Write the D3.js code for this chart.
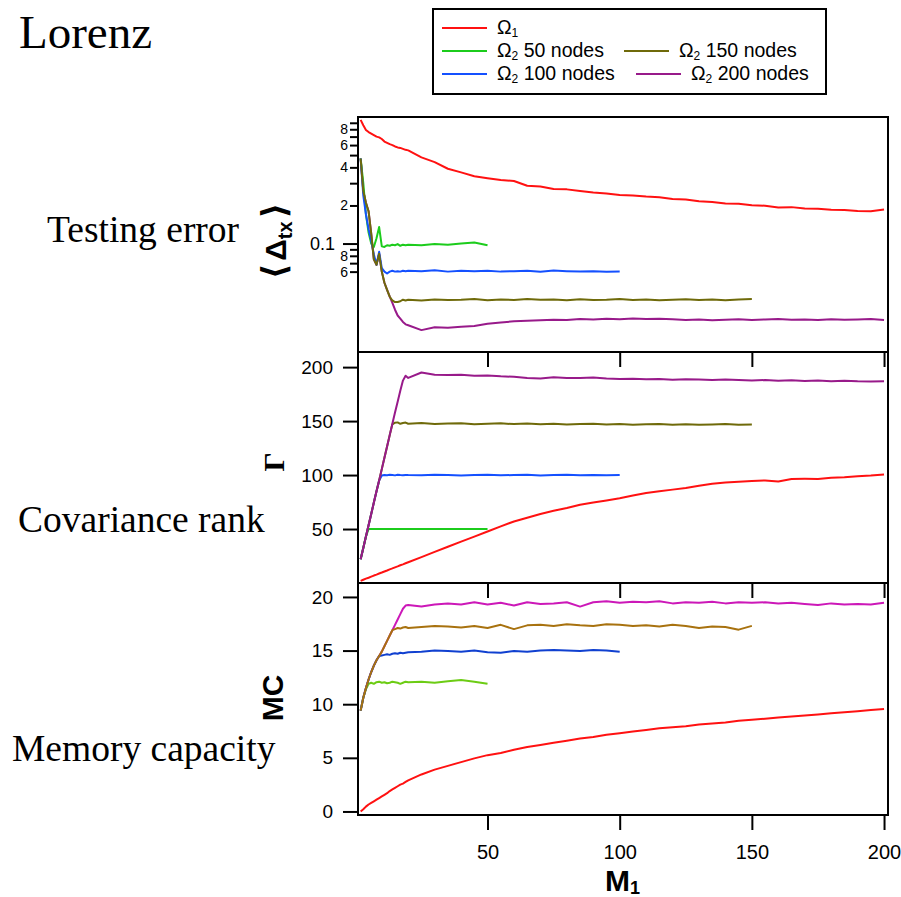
<!DOCTYPE html>
<html>
<head>
<meta charset="utf-8">
<script src="https://cdn.jsdelivr.net/npm/d3@7"></script>
<style>
  body { margin: 0; background: #fff; }
  svg { display: block; }
</style>
</head>
<body>
<div id="chart"></div>
<script>
// M1 sample points (fine at the start, then every 5)
const M1 = [2,3,4,5,6,7,8,9,10,11,12,13,14,15,16,17,18,19,20,25,30,35,40,45,50,55,60,65,70,75,80,85,90,95,100,105,110,115,120,125,130,135,140,145,150,155,160,165,170,175,180,185,190,195,200];

// testing error <Delta_tx> (log axis)
const errO1 = [0.95,0.86,0.79,0.76,0.74,0.72,0.70,0.69,0.67,0.64,0.625,0.61,0.60,0.585,0.575,0.57,0.56,0.55,0.545,
  0.48,0.44,0.39,0.365,0.34,0.328,0.318,0.312,0.286,0.282,0.27,0.268,0.26,0.253,0.249,0.242,0.240,0.235,0.232,0.225,0.223,0.216,0.213,0.207,0.206,0.201,0.199,0.193,0.194,0.189,0.188,0.185,0.184,0.181,0.180,0.186];
const err50 = [0.47,0.30,0.17,0.122,0.100,0.094,0.11,0.135,0.095,0.094,0.097,0.096,0.098,0.097,0.099,0.096,0.098,0.097,0.098,
  0.097,0.099,0.098,0.100,0.102,0.097];
const err100 = [0.47,0.24,0.17,0.13,0.105,0.082,0.068,0.086,0.064,0.060,0.058,0.060,0.061,0.060,0.0605,0.060,0.061,0.0605,0.061,
  0.0605,0.0615,0.060,0.061,0.0605,0.061,0.060,0.0605,0.061,0.0598,0.0612,0.0605,0.060,0.0603,0.0598,0.060];
const err150 = [0.47,0.26,0.21,0.18,0.12,0.075,0.068,0.083,0.060,0.049,0.043,0.038,0.0355,0.0345,0.0345,0.035,0.036,0.0355,0.036,
  0.0355,0.0362,0.0358,0.036,0.0365,0.0357,0.0362,0.0358,0.0365,0.036,0.0362,0.0357,0.0363,0.0358,0.036,0.0365,0.0358,0.0362,0.0357,0.036,0.0363,0.0358,0.0362,0.0356,0.0362,0.0365];
const err200 = [0.47,0.26,0.21,0.18,0.12,0.075,0.068,0.083,0.060,0.049,0.043,0.038,0.034,0.030,0.027,0.0255,0.024,0.023,0.0226,
  0.0207,0.0218,0.0216,0.022,0.0223,0.0232,0.0238,0.0243,0.0245,0.0248,0.025,0.0249,0.0253,0.0251,0.0254,0.0252,0.0256,0.0253,0.0255,0.0252,0.0249,0.0251,0.0248,0.025,0.0252,0.0249,0.0251,0.0253,0.025,0.0251,0.0249,0.0252,0.025,0.0251,0.0253,0.0249];

// covariance rank Gamma
const rankO1 = [2,3,4,4.9,5.9,6.9,7.8,8.8,9.7,10.7,11.6,12.6,13.5,14.5,15.4,16.4,17.3,18.3,19.2,
  24,28.8,33.6,38.3,43,47.7,52.5,57,60.5,64,67,69.5,72.5,74.5,76.5,78.5,81,83.4,85,86.5,88,90,92,93,93.8,94.5,95,94,96.4,96.5,96.4,97.5,98,98.8,99.5,100.5];
const rank50 = [22,32.5,43,50,50,50,50,50,50,50,50,50,50,50,50,50,50,50,50,
  50,50,50,50,50,50];
const rank100 = [22,32.5,43,53.5,64,74.5,85,95,99.5,100,99.8,100.2,100,99.7,100.3,100,99.8,100.1,100,
  99.8,100.2,100,99.6,100.1,100.3,99.8,100,100.2,99.7,100,100.3,99.9,100.1,99.8,100];
const rank150 = [22,32.5,43,53.5,64,74.5,85,95,105.5,116,126.5,137,147,148.5,148.8,147.5,148.2,148.6,147.5,
  148.2,147.3,147.8,148,147,147.6,147.9,147.2,147.7,147,147.5,146.8,147.3,147.6,146.9,147.2,146.6,147,147.3,146.7,147,146.5,146.9,147.2,146.6,146.8];
const rank200 = [22,32.5,43,53.5,64,74.5,85,95,105.5,116,126.5,137,147.5,158,168,178,187.5,192,190,
  195,193,192.6,193,192,192.3,191.5,191,190,189.5,190.5,190,189.8,190.4,189.5,189,189.3,188.8,189,188.4,188.8,188.5,188.1,188.6,188,187.6,188,187.4,187.8,187.2,187.5,187,187.3,186.8,186.6,187];

// memory capacity MC
const mcO1 = [0,0.2,0.45,0.65,0.8,0.95,1.1,1.25,1.4,1.55,1.7,1.9,2.05,2.2,2.35,2.5,2.6,2.75,2.9,
  3.45,3.9,4.25,4.6,4.95,5.25,5.45,5.75,6.0,6.2,6.4,6.6,6.8,6.95,7.15,7.3,7.45,7.6,7.75,7.85,7.95,8.1,8.2,8.3,8.45,8.55,8.65,8.75,8.85,8.95,9.05,9.15,9.25,9.35,9.45,9.55];
const mc50 = [9.4,10.6,11.4,11.9,12.0,11.9,12.05,12.1,12.0,12.05,11.95,12.0,12.1,12.05,12.0,11.9,12.0,12.1,12.05,
  12.1,12.0,12.15,12.25,12.1,11.9];
const mc100 = [9.4,10.6,11.5,12.3,13.0,13.6,14.1,14.5,14.55,14.6,14.65,14.6,14.7,14.75,14.7,14.8,14.75,14.8,14.85,
  14.9,15.0,14.95,14.9,15.0,14.85,14.8,14.95,14.9,15.0,15.05,15.0,14.95,15.05,15.0,14.9];
const mc150 = [9.4,10.6,11.5,12.3,13.0,13.6,14.1,14.5,14.9,15.4,15.9,16.4,16.9,17.0,17.1,17.05,17.15,17.2,17.1,
  17.2,17.3,17.25,17.15,17.3,17.1,17.4,17.0,17.35,17.4,17.3,17.45,17.35,17.3,17.45,17.4,17.3,17.35,17.25,17.4,17.3,17.1,17.25,17.2,16.95,17.3];
const mc200 = [9.4,10.6,11.5,12.3,13.0,13.6,14.1,14.5,14.9,15.4,15.9,16.4,16.9,17.4,17.9,18.4,18.9,19.2,19.25,
  19.1,19.3,19.4,19.3,19.5,19.3,19.45,19.2,19.5,19.35,19.4,19.5,19.1,19.5,19.6,19.45,19.55,19.5,19.6,19.4,19.5,19.45,19.55,19.4,19.5,19.45,19.5,19.4,19.45,19.35,19.25,19.4,19.3,19.35,19.3,19.45];

// ticks
const xTicks = [50, 100, 150, 200];
const errMinorTicks = [0.06,0.07,0.08,0.09,0.2,0.3,0.4,0.5,0.6,0.7,0.8,0.9];
const errMinorLabels = ["6","","8","","2","","4","","6","","8",""];
const errMajorTicks = [0.1];
const rankTicks = [50, 100, 150, 200];
const mcTicks = [0, 5, 10, 15, 20];

const legendNames = ["Ω1", "Ω2 50 nodes", "Ω2 100 nodes", "Ω2 150 nodes", "Ω2 200 nodes"];

const SANS = "'Liberation Sans', Arial, Helvetica, sans-serif";
const SERIF = "'Liberation Serif', 'Times New Roman', serif";

const W = 901, H = 897;
const L = 358, R = 888;

const svg = d3.select("#chart").append("svg")
  .attr("width", W).attr("height", H);

const x = d3.scaleLinear().domain([1, 201.5]).range([L, R]);

const topCol = {o1: "#ff1111", n50: "#1ccc1c", n100: "#1450ff", n150: "#6f6a0a", n200: "#981a8a"};
const botCol = {o1: "#ff1111", n50: "#6ccc14", n100: "#1040d0", n150: "#a8720f", n200: "#cc18b8"};

const panels = [
  { top: 117, bottom: 352,
    y: d3.scaleLog().domain([0.0139, 1]).range([352, 117]),
    series: [[errO1, topCol.o1], [err200, topCol.n200], [err50, topCol.n50], [err100, topCol.n100], [err150, topCol.n150]] },
  { top: 352, bottom: 583,
    y: d3.scaleLinear().domain([0, 214]).range([583, 352]),
    series: [[rankO1, topCol.o1], [rank50, topCol.n50], [rank100, topCol.n100], [rank150, topCol.n150], [rank200, topCol.n200]] },
  { top: 583, bottom: 815,
    y: d3.scaleLinear().domain([-0.33, 21.3]).range([815, 583]),
    series: [[mcO1, botCol.o1], [mc200, botCol.n200], [mc50, botCol.n50], [mc100, botCol.n100], [mc150, botCol.n150]] }
];

function styleAxis(g, size) {
  g.attr("font-family", null).attr("font-size", null);
  g.select(".domain").remove();
  g.selectAll(".tick line").attr("stroke", "#000").attr("stroke-width", 2);
  g.selectAll(".tick text").attr("fill", "#000")
    .attr("font-family", SANS).attr("font-size", size);
}

panels.forEach((p, i) => {
  const line = d3.line()
    .x((d, j) => x(M1[j]))
    .y(d => p.y(d));

  p.series.forEach(([vals, col]) => {
    svg.append("path")
      .datum(vals)
      .attr("fill", "none")
      .attr("stroke", col)
      .attr("stroke-width", 2)
      .attr("stroke-linejoin", "round")
      .attr("d", line);
  });

  // x ticks at the bottom of each panel, pointing down
  const gx = svg.append("g")
    .attr("transform", `translate(0,${p.bottom})`)
    .call(d3.axisBottom(x).tickValues(xTicks).tickSize(15).tickPadding(15)
      .tickFormat(i === 2 ? d3.format("d") : () => ""));
  styleAxis(gx, 20);
});

// y axes
const gErrMinor = svg.append("g").attr("transform", `translate(${L},0)`)
  .call(d3.axisLeft(panels[0].y).tickValues(errMinorTicks).tickSize(8).tickPadding(2)
    .tickFormat((d, i) => errMinorLabels[i]));
styleAxis(gErrMinor, 14);

const gErrMajor = svg.append("g").attr("transform", `translate(${L},0)`)
  .call(d3.axisLeft(panels[0].y).tickValues(errMajorTicks).tickSize(15).tickPadding(8)
    .tickFormat(d3.format(".1f")));
styleAxis(gErrMajor, 18);

const gRank = svg.append("g").attr("transform", `translate(${L},0)`)
  .call(d3.axisLeft(panels[1].y).tickValues(rankTicks).tickSize(15).tickPadding(10));
styleAxis(gRank, 19);

const gMc = svg.append("g").attr("transform", `translate(${L},0)`)
  .call(d3.axisLeft(panels[2].y).tickValues(mcTicks).tickSize(15).tickPadding(10));
styleAxis(gMc, 19);

// frames
panels.forEach(p => {
  svg.append("rect")
    .attr("x", L).attr("y", p.top)
    .attr("width", R - L).attr("height", p.bottom - p.top)
    .attr("fill", "none").attr("stroke", "#000").attr("stroke-width", 2);
});

// axis titles
const dt = svg.append("text")
  .attr("transform", "translate(286,241) rotate(-90)")
  .attr("text-anchor", "middle")
  .attr("font-family", SANS).attr("font-weight", "bold").attr("font-size", 30);
dt.append("tspan").attr("font-family", "'DejaVu Sans', sans-serif").attr("font-size", 34).text("⟨");
dt.append("tspan").attr("dx", 3).text("Δ");
dt.append("tspan").attr("font-size", 20).attr("dy", 6).text("tx");
dt.append("tspan").attr("dy", -6).attr("dx", 3).attr("font-family", "'DejaVu Sans', sans-serif").attr("font-size", 34).text("⟩");

svg.append("text")
  .attr("transform", "translate(284,462) rotate(-90)")
  .attr("text-anchor", "middle")
  .attr("font-family", SERIF).attr("font-weight", "bold").attr("font-size", 30)
  .text("Γ");

svg.append("text")
  .attr("transform", "translate(283,698) rotate(-90)")
  .attr("text-anchor", "middle")
  .attr("font-family", SANS).attr("font-weight", "bold").attr("font-size", 30)
  .text("MC");

const m1 = svg.append("text")
  .attr("x", 605).attr("y", 891)
  .attr("font-family", SANS).attr("font-weight", "bold").attr("font-size", 30);
m1.append("tspan").text("M");
m1.append("tspan").attr("font-size", 18).attr("dy", 3).text("1");

// row titles
const rowTitles = [["Lorenz", 19, 48, 47], ["Testing error", 47, 242, 37.5], ["Covariance rank", 18, 532, 37.5], ["Memory capacity", 12, 761, 37.5]];
rowTitles.forEach(([t, tx, ty, fs]) => {
  svg.append("text").attr("x", tx).attr("y", ty)
    .attr("font-family", SERIF).attr("font-size", fs).attr("fill", "#000").text(t);
});

// legend
const lg = svg.append("g");
lg.append("rect").attr("x", 433).attr("y", 9).attr("width", 393).attr("height", 85)
  .attr("fill", "#fff").attr("stroke", "#000").attr("stroke-width", 2);
const legendItems = [
  [legendNames[0], topCol.o1, 442, 28],
  [legendNames[1], topCol.n50, 442, 51],
  [legendNames[2], topCol.n100, 442, 74],
  [legendNames[3], topCol.n150, 624, 51],
  [legendNames[4], topCol.n200, 636, 74]
];
legendItems.forEach(([name, col, lx, ly]) => {
  lg.append("line").attr("x1", lx).attr("x2", lx + 45).attr("y1", ly).attr("y2", ly)
    .attr("stroke", col).attr("stroke-width", 2);
  const t = lg.append("text").attr("x", lx + 55).attr("y", ly + 6)
    .attr("font-family", SANS).attr("font-size", 19.5).attr("fill", "#000");
  t.append("tspan").text(name.slice(0, 1));
  t.append("tspan").attr("font-size", 12).attr("dy", 3).text(name.slice(1, 2));
  if (name.length > 2) t.append("tspan").attr("dy", -3).text(name.slice(2));
});
</script>
</body>
</html>
